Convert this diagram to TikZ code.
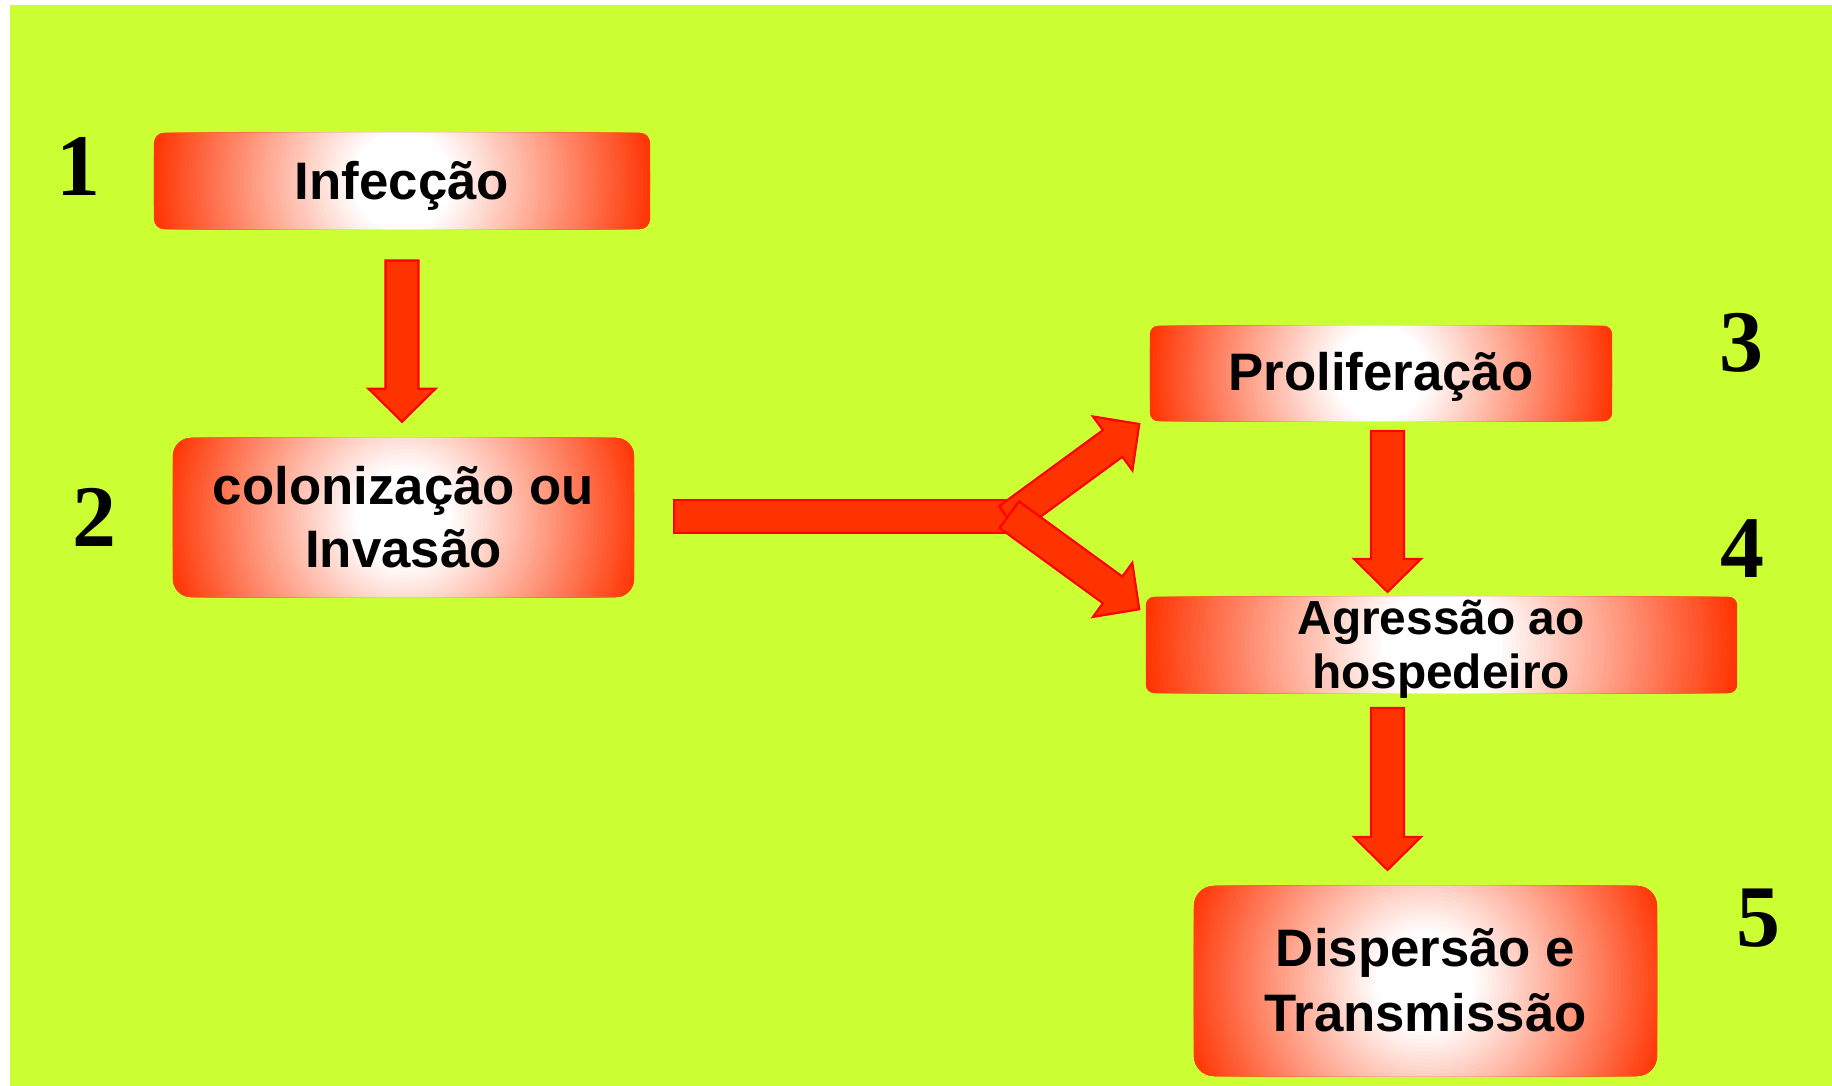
\documentclass[tikz,border=0pt]{standalone}
\usepackage{fontspec}
\setsansfont{Liberation Sans}
\newfontfamily\numfont{Liberation Serif}
\usetikzlibrary{calc}
\definecolor{bggreen}{RGB}{204,255,51}
\definecolor{boxred}{RGB}{255,51,0}
\definecolor{arrfill}{RGB}{255,51,0}
\definecolor{arrline}{RGB}{255,0,0}
\newcommand\baShaftHW{0.165cm}
\newcommand\baHeadHW{0.335cm}
\newcommand\baHeadLen{0.33cm}
% block arrow from tail coordinate #1 to tip coordinate #2, helper name #3
\newcommand\blockarrow[3]{%
  \coordinate (#3) at ($(#2)!\baHeadLen!(#1)$);
  \filldraw[barrow] ($(#1)!\baShaftHW!90:(#2)$) -- ($(#3)!\baShaftHW!90:(#2)$)
    -- ($(#3)!\baHeadHW!90:(#2)$) -- (#2) -- ($(#3)!\baHeadHW!-90:(#2)$)
    -- ($(#3)!\baShaftHW!-90:(#2)$) -- ($(#1)!\baShaftHW!-90:(#2)$) -- cycle;
}
% white-centre radial gradient inside box node #1, gradient radius #2, corner radius #3
\newcommand\boxshading[3]{%
  \begin{scope}
    \clip[rounded corners=#3] (#1.south west) rectangle (#1.north east);
    \foreach \k in {0,...,63}{%
      \pgfmathsetmacro\ff{1-\k/64}%
      \pgfmathsetmacro\ss{max(0,min(100,(\ff-0.2)/0.8*100))}%
      \fill[boxred!\ss!white] (#1.center) circle [radius=\ff*#2];
    }
  \end{scope}
}
\tikzset{
  stagebox/.style={inner sep=0pt, outer sep=0pt, draw=none},
  boxtext/.style={font={\fontsize{15}{18}\selectfont\sffamily\bfseries}, align=center, anchor=base, inner sep=0pt},
  numlabel/.style={font={\fontsize{25}{30}\selectfont\numfont\bfseries}, inner sep=0pt, anchor=center},
  barrow/.style={fill=arrfill, draw=arrline, line width=0.6pt, line join=miter}
}
\begin{document}
\begin{tikzpicture}[x=0.01cm,y=-0.01cm]
\useasboundingbox (0,0) rectangle (1832,1086);
\fill[white] (0,0) rectangle (1832,1086);
\fill[bggreen] (10,5) rectangle (1832,1086);

% boxes
\node[stagebox, minimum width=4.96cm, minimum height=0.96cm] (b1) at (402,181) {};
\node[stagebox, minimum width=4.61cm, minimum height=1.59cm] (b2) at (403.5,517.5) {};
\node[stagebox, minimum width=4.62cm, minimum height=0.95cm] (b3) at (1381,373.5) {};
\node[stagebox, minimum width=5.91cm, minimum height=0.96cm] (b4) at (1441.5,645) {};
\node[stagebox, minimum width=4.63cm, minimum height=1.90cm] (b5) at (1425.5,981) {};
\boxshading{b1}{2.53cm}{0.10cm}
\boxshading{b2}{2.44cm}{0.18cm}
\boxshading{b3}{2.36cm}{0.08cm}
\boxshading{b4}{2.99cm}{0.08cm}
\boxshading{b5}{2.50cm}{0.20cm}

% texts (multi-line nodes: base = baseline of last line)
\node[boxtext] (t1) at (402,200) {Infecção};
\node[boxtext] (t2) at (403.5,567.5) {colonização ou\\Invasão};
\node[boxtext] (t3) at (1381,391) {Proliferação};
\node[boxtext, font={\fontsize{13.6}{15.6}\selectfont\sffamily\bfseries}] (t4) at (1441,689) {Agressão ao\\hospedeiro};
\node[boxtext, font={\fontsize{15}{18.5}\selectfont\sffamily\bfseries}] (t5) at (1425.5,1031.5) {Dispersão e\\Transmissão};

% numbers
\node[numlabel] (n1) at (78.5,166) {1};
\node[numlabel] (n2) at (94,517.5) {2};
\node[numlabel] (n3) at (1741.5,342.5) {3};
\node[numlabel] (n4) at (1742.5,549) {4};
\node[numlabel] (n5) at (1758,918.5) {5};

% arrow end points
\coordinate (a1s) at (402,260.5);   \coordinate (a1e) at (402,421.8);
\coordinate (a2s) at (1387.5,431);  \coordinate (a2e) at (1387.5,592);
\coordinate (a3s) at (1387.5,708);  \coordinate (a3e) at (1387.5,870);
\coordinate (fs) at (674,516.5);    \coordinate (fe) at (1008,516.5);
\coordinate (ups) at (1008.8,519.5); \coordinate (upe) at (1139.3,424);
\coordinate (lws) at (1009.3,514.7); \coordinate (lwe) at (1139.3,609.3);

\blockarrow{a1s}{a1e}{a1h}
\blockarrow{a2s}{a2e}{a2h}
\blockarrow{a3s}{a3e}{a3h}
\filldraw[barrow] ($(fs)+(0,-16.5)$) rectangle ($(fe)+(0,16.5)$);
\blockarrow{ups}{upe}{uph}
\blockarrow{lws}{lwe}{lwh}
\end{tikzpicture}
\end{document}
